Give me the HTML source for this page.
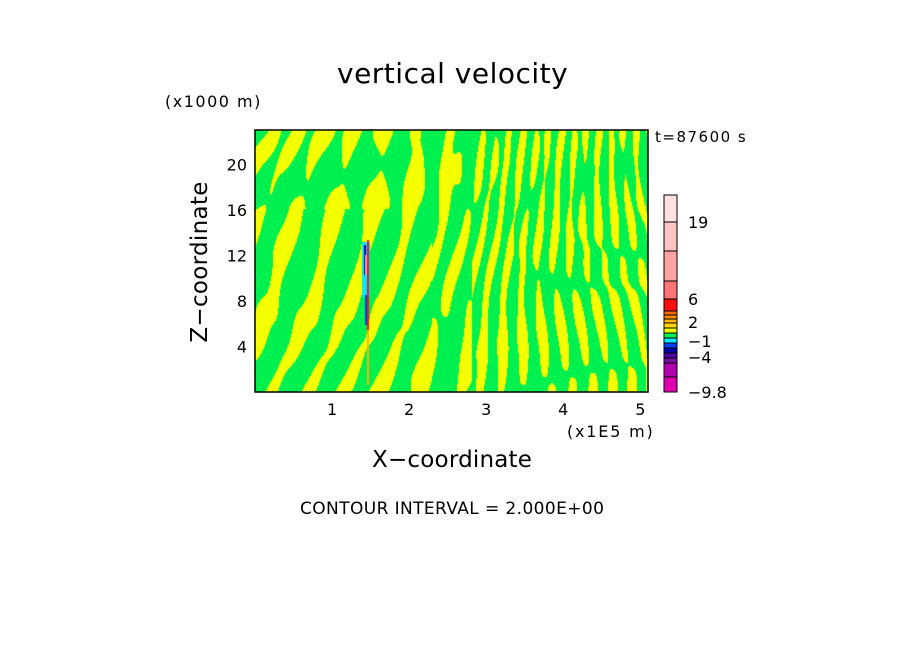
<!DOCTYPE html>
<html><head><meta charset="utf-8"><style>
body{margin:0;background:#fff;width:904px;height:654px;overflow:hidden;position:relative;font-family:"DejaVu Sans","Liberation Sans",sans-serif;color:#000}
.t{position:absolute;white-space:nowrap}
</style></head><body>
<div class="t" style="left:337px;top:57px;font-size:28px;letter-spacing:0.5px;">vertical velocity</div>
<div class="t" style="left:165px;top:92px;font-size:16px;letter-spacing:1.5px;">(x1000 m)</div>
<div class="t" style="left:655px;top:128px;font-size:15px;letter-spacing:1.5px;">t=87600 s</div>
<div class="t" style="left:200px;top:262px;font-size:23px;letter-spacing:0.3px;transform:translate(-50%,-50%) rotate(-90deg);">Z−coordinate</div>
<div class="t" style="left:372px;top:447px;font-size:23px;letter-spacing:0.2px;">X−coordinate</div>
<div class="t" style="left:567px;top:422px;font-size:16px;letter-spacing:1.8px;">(x1E5 m)</div>
<div class="t" style="left:300px;top:499px;font-size:17px;letter-spacing:0.4px;">CONTOUR INTERVAL = 2.000E+00</div>
<canvas id="fld" width="393" height="262" style="position:absolute;left:255px;top:130px;"></canvas>
<svg id="ov" width="904" height="654" style="position:absolute;left:0;top:0"></svg>
<script>
const xTicks=[1,2,3,4,5];
const zTicks=[4,8,12,16,20];
const cbBounds=[195,222,251,281,299,311,315,319,323,328,333,338,343,348,353,358,363,377,392];
const cbColors=["#ffe0e0","#ffc4c4","#ffa4a4","#ff7474","#ff1010","#ff6a00","#ff8a00","#ffb400","#ffd800","#f0ff00","#00f050","#00e8ff","#0040ff","#0000b0","#5000a0","#7a10a8","#b000b0","#e000b0"];
const cbLabels=[["19",222],["6",299],["2",322],["−1",341],["−4",357],["−9.8",392]];
const X0=255,X1=648,Y0=130,Y1=392;
const xs=v=>X0+(v/5.1)*(X1-X0);
const zs=v=>Y1-(v/23.05)*(Y1-Y0);
const ns="http://www.w3.org/2000/svg";
const ov=document.getElementById('ov');
function mk(tag,attrs){const e=document.createElementNS(ns,tag);for(const k in attrs)e.setAttribute(k,attrs[k]);ov.appendChild(e);return e;}
const c=document.getElementById('fld').getContext('2d');
for(let i=0;i<393;i++){for(let j=0;j<262;j++){
 const u=i/393,v=j/262;
 const k=u<0.55?28:60;
 const bend=(u-0.72)*(1-v)*2.2;
 let f=Math.sin((u+bend*0.25)*k*2+Math.sin(v*5+u*7)*2.2+Math.sin(v*2.3)*1.5);
 f+=0.6*Math.sin(u*130+v*9+Math.sin(v*13)*1.5)*(u>0.45?1:0.35);
 f+=0.4*Math.sin(v*18+u*9);
 if(v<0.3&&u<0.35)f+=0.5*Math.sin(v*20+u*6);
 c.fillStyle=f>0.25?"#f4ff00":"#00f050";c.fillRect(i,j,1,1);
}}
c.fillStyle="#00e8ff";c.fillRect(107,112,8,55);
c.fillStyle="#0000c0";c.fillRect(109,115,2,30);
c.fillStyle="#ff1010";c.fillRect(112,110,2,90);
c.fillStyle="#ffa0a0";c.fillRect(110,125,2,20);
c.fillStyle="#0040ff";c.fillRect(110,165,2,30);
c.fillStyle="#ffb400";c.fillRect(112,200,2,55);
let r=mk('rect',{x:X0,y:Y0,width:X1-X0,height:Y1-Y0,fill:'none',stroke:'#000','stroke-width':1.5});

xTicks.forEach(t=>{const e=mk('text',{x:xs(t),y:415,'font-size':16,'text-anchor':'middle','font-family':'DejaVu Sans, sans-serif'});e.textContent=t;
});
zTicks.forEach(t=>{const e=mk('text',{x:247,y:zs(t)+6,'font-size':16,'text-anchor':'end','font-family':'DejaVu Sans, sans-serif'});e.textContent=t;
});
cbColors.forEach((col,k)=>{const e=mk('rect',{x:664,y:cbBounds[k],width:13,height:cbBounds[k+1]-cbBounds[k],fill:col,stroke:'#000','stroke-width':1});
});
cbLabels.forEach(([s,y])=>{const e=mk('text',{x:688,y:y+6,'font-size':16,'font-family':'DejaVu Sans, sans-serif'});e.textContent=s;
});
</script>
</body></html>
